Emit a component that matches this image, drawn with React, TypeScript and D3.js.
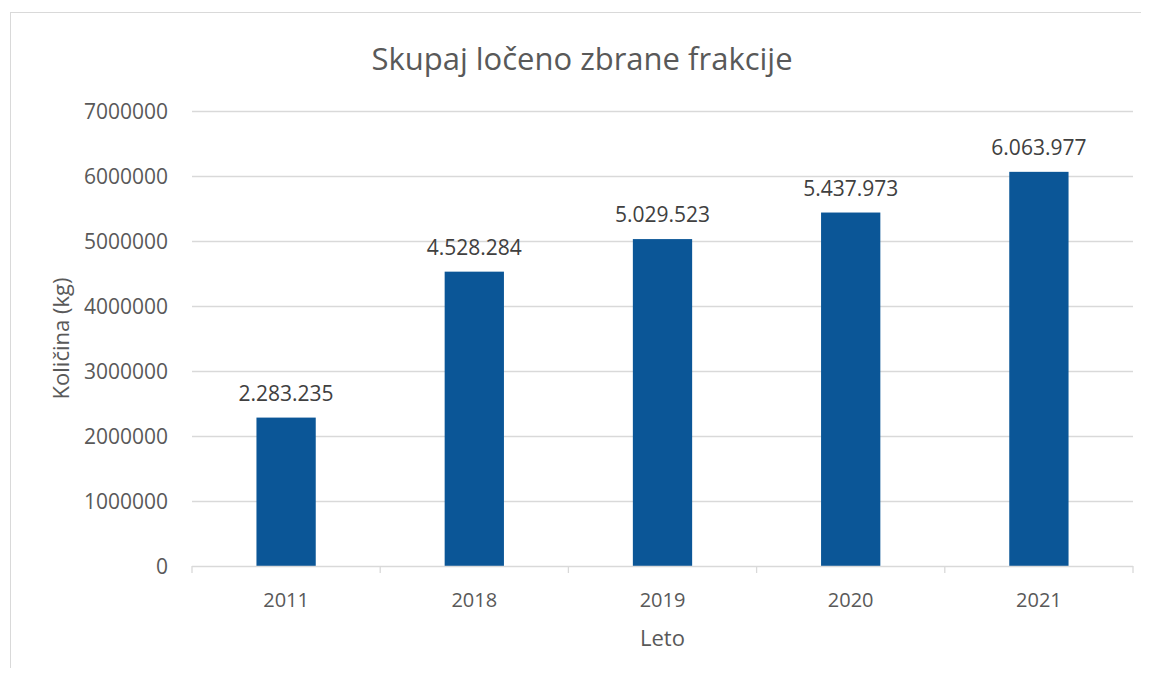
import { useRef, useEffect } from 'react'
import * as d3 from 'd3'

const years = ['2011', '2018', '2019', '2020', '2021']
const amounts = [2283235, 4528284, 5029523, 5437973, 6063977]
const yTicks = [0, 1000000, 2000000, 3000000, 4000000, 5000000, 6000000, 7000000]

const W = 1149
const H = 676
const FONT = '"Open Sans", sans-serif'
const TEXT = '#595959'

export default function App() {
  const svgRef = useRef<SVGSVGElement>(null)

  useEffect(() => {
    if (!svgRef.current) return
    const svg = d3.select(svgRef.current)
    svg.selectAll('*').remove()

    const margin = { top: 111, right: 16, bottom: 110, left: 192 }
    const innerW = W - margin.left - margin.right
    const innerH = H - margin.top - margin.bottom

    // chart border
    svg.append('rect')
      .attr('x', 10.5).attr('y', 12.5)
      .attr('width', 1300).attr('height', 800)
      .attr('fill', '#fff').attr('stroke', '#d9d9d9')

    const g = svg.append('g').attr('transform', `translate(${margin.left},${margin.top})`)

    const x = d3.scaleBand().domain(years).range([0, innerW]).paddingInner(0.685).paddingOuter(0.3425)
    const y = d3.scaleLinear().domain([0, 7000000]).range([innerH, 0])

    // gridlines
    g.selectAll('.grid')
      .data(yTicks.filter((t) => t > 0))
      .join('line')
      .attr('x1', 0).attr('x2', innerW)
      .attr('y1', (d) => Math.round(y(d)) + 0.5).attr('y2', (d) => Math.round(y(d)) + 0.5)
      .attr('stroke', '#d9d9d9').attr('stroke-width', 1.3)

    // y tick labels
    g.selectAll('.ylab')
      .data(yTicks)
      .join('text')
      .attr('x', -24)
      .attr('y', (d) => y(d))
      .attr('dy', '0.36em')
      .attr('text-anchor', 'end')
      .attr('fill', TEXT)
      .attr('font-family', FONT)
      .attr('font-size', '21px')
      .text((d) => String(d))

    // bars
    g.selectAll('.bar')
      .data(years)
      .join('rect')
      .attr('x', (d) => x(d) ?? 0)
      .attr('y', (d, i) => y(amounts[i]))
      .attr('width', x.bandwidth())
      .attr('height', (d, i) => innerH - y(amounts[i]))
      .attr('fill', '#0b5697')

    // data labels
    const fmt = (v: number) => d3.format(',')(v).replace(/,/g, '.')
    g.selectAll('.dlab')
      .data(years)
      .join('text')
      .attr('x', (d) => (x(d) ?? 0) + x.bandwidth() / 2)
      .attr('y', (d, i) => y(amounts[i]) - 17)
      .attr('text-anchor', 'middle')
      .attr('fill', '#404040')
      .attr('font-family', FONT)
      .attr('font-size', '21px')
      .text((d, i) => fmt(amounts[i]))

    // x axis
    g.append('line')
      .attr('x1', 0).attr('x2', innerW)
      .attr('y1', innerH + 0.5).attr('y2', innerH + 0.5)
      .attr('stroke', '#d9d9d9').attr('stroke-width', 1.3)
    const step = innerW / years.length
    g.selectAll('.xtick')
      .data(d3.range(years.length + 1))
      .join('line')
      .attr('x1', (d) => d * step).attr('x2', (d) => d * step)
      .attr('y1', innerH).attr('y2', innerH + 7)
      .attr('stroke', '#d9d9d9').attr('stroke-width', 1.3)

    g.selectAll('.xlab')
      .data(years)
      .join('text')
      .attr('x', (d) => (x(d) ?? 0) + x.bandwidth() / 2)
      .attr('y', innerH + 41)
      .attr('text-anchor', 'middle')
      .attr('fill', TEXT)
      .attr('font-family', FONT)
      .attr('font-size', '20px')
      .text((d) => d)

    // axis titles
    svg.append('text')
      .attr('x', margin.left + innerW / 2)
      .attr('y', 646)
      .attr('text-anchor', 'middle')
      .attr('fill', TEXT)
      .attr('font-family', FONT)
      .attr('font-size', '22px')
      .text('Leto')

    svg.append('text')
      .attr('transform', `translate(69,${margin.top + innerH / 2}) rotate(-90)`)
      .attr('text-anchor', 'middle')
      .attr('fill', TEXT)
      .attr('font-family', FONT)
      .attr('font-size', '22px')
      .text('Količina (kg)')

    // title
    svg.append('text')
      .attr('x', 582)
      .attr('y', 70)
      .attr('text-anchor', 'middle')
      .attr('fill', TEXT)
      .attr('font-family', FONT)
      .attr('font-size', '31px')
      .text('Skupaj ločeno zbrane frakcije')
  }, [])

  return (
    <div style={{ margin: -8 }}>
      <svg ref={svgRef} width={W} height={H} style={{ display: 'block' }} />
    </div>
  )
}
